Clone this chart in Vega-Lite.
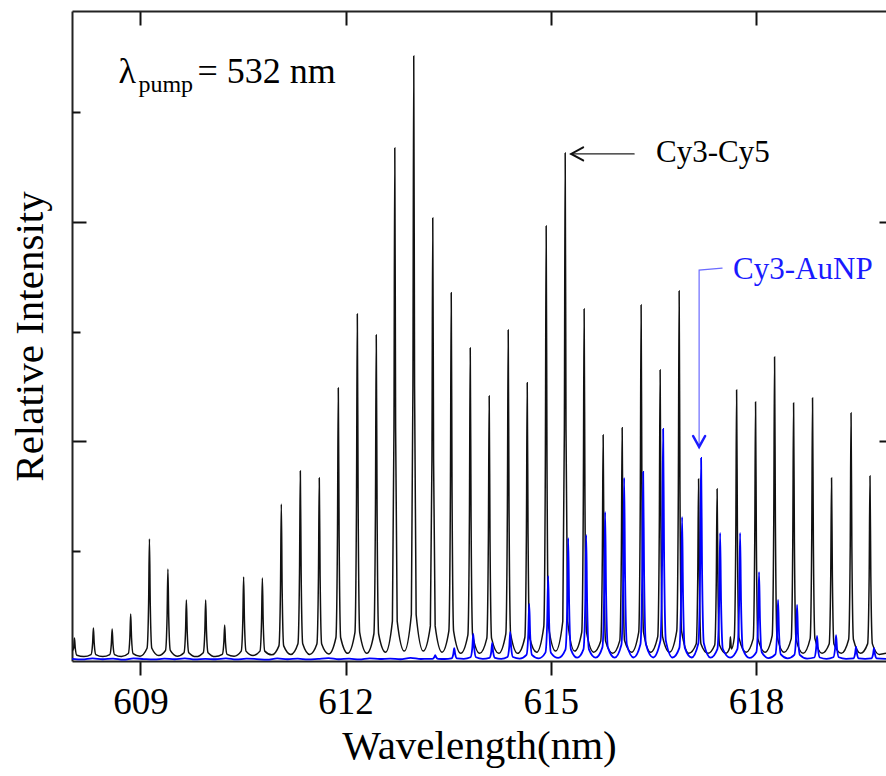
{
  "$schema": "https://vega.github.io/schema/vega-lite/v6.json",
  "width": 814,
  "height": 650,
  "autosize": {"type": "none"},
  "padding": {"left": 72, "top": 11, "right": 0, "bottom": 115},
  "background": "white",
  "config": {"view": {"stroke": null}},
  "datasets": {
    "k": [
      {"x":608.000,"y":0.045},
      {"x":608.024,"y":0.058},{"x":608.036,"y":0.105},{"x":608.048,"y":0.058},{"x":608.071,"y":0.026},
      {"x":608.175,"y":0.020},
      {"x":608.278,"y":0.029},{"x":608.301,"y":0.079},{"x":608.313,"y":0.150},{"x":608.325,"y":0.079},{"x":608.348,"y":0.029},
      {"x":608.450,"y":0.020},
      {"x":608.552,"y":0.029},{"x":608.575,"y":0.077},{"x":608.587,"y":0.146},{"x":608.599,"y":0.077},{"x":608.622,"y":0.029},
      {"x":608.722,"y":0.020},
      {"x":608.823,"y":0.034},{"x":608.846,"y":0.107},{"x":608.858,"y":0.214},{"x":608.870,"y":0.107},{"x":608.893,"y":0.034},
      {"x":608.995,"y":0.022},
      {"x":609.097,"y":0.058},{"x":609.120,"y":0.261},{"x":609.132,"y":0.556},{"x":609.144,"y":0.261},{"x":609.167,"y":0.058},
      {"x":609.267,"y":0.025},
      {"x":609.367,"y":0.048},{"x":609.390,"y":0.200},{"x":609.402,"y":0.419},{"x":609.414,"y":0.200},{"x":609.437,"y":0.048},
      {"x":609.537,"y":0.022},
      {"x":609.637,"y":0.038},{"x":609.660,"y":0.136},{"x":609.672,"y":0.278},{"x":609.684,"y":0.136},{"x":609.707,"y":0.038},
      {"x":609.813,"y":0.020},
      {"x":609.919,"y":0.038},{"x":609.942,"y":0.136},{"x":609.954,"y":0.278},{"x":609.966,"y":0.136},{"x":609.989,"y":0.038},
      {"x":610.093,"y":0.020},
      {"x":610.197,"y":0.030},{"x":610.220,"y":0.085},{"x":610.232,"y":0.164},{"x":610.244,"y":0.085},{"x":610.267,"y":0.030},
      {"x":610.370,"y":0.022},
      {"x":610.474,"y":0.045},{"x":610.497,"y":0.183},{"x":610.509,"y":0.383},{"x":610.521,"y":0.183},{"x":610.544,"y":0.045},
      {"x":610.646,"y":0.025},
      {"x":610.748,"y":0.045},{"x":610.771,"y":0.181},{"x":610.783,"y":0.378},{"x":610.795,"y":0.181},{"x":610.818,"y":0.045},
      {"x":610.921,"y":0.028},
      {"x":611.025,"y":0.069},{"x":611.048,"y":0.333},{"x":611.060,"y":0.715},{"x":611.072,"y":0.333},{"x":611.095,"y":0.069},
      {"x":611.199,"y":0.030},
      {"x":611.303,"y":0.079},{"x":611.326,"y":0.401},{"x":611.338,"y":0.866},{"x":611.350,"y":0.401},{"x":611.373,"y":0.079},
      {"x":611.476,"y":0.030},
      {"x":611.580,"y":0.077},{"x":611.603,"y":0.386},{"x":611.615,"y":0.834},{"x":611.627,"y":0.386},{"x":611.650,"y":0.077},
      {"x":611.754,"y":0.032},
      {"x":611.858,"y":0.106},{"x":611.881,"y":0.571},{"x":611.893,"y":1.244},{"x":611.905,"y":0.571},{"x":611.928,"y":0.106},
      {"x":612.032,"y":0.035},
      {"x":612.136,"y":0.129},{"x":612.159,"y":0.722},{"x":612.171,"y":1.581},{"x":612.183,"y":0.722},{"x":612.206,"y":0.129},
      {"x":612.310,"y":0.035},
      {"x":612.413,"y":0.123},{"x":612.436,"y":0.679},{"x":612.448,"y":1.485},{"x":612.460,"y":0.679},{"x":612.483,"y":0.123},
      {"x":612.584,"y":0.040},
      {"x":612.684,"y":0.182},{"x":612.707,"y":1.063},{"x":612.719,"y":2.337},{"x":612.731,"y":1.063},{"x":612.754,"y":0.182},
      {"x":612.858,"y":0.045},
      {"x":612.961,"y":0.212},{"x":612.984,"y":1.251},{"x":612.996,"y":2.756},{"x":613.008,"y":1.251},{"x":613.031,"y":0.212},
      {"x":613.135,"y":0.045},
      {"x":613.239,"y":0.160},{"x":613.262,"y":0.919},{"x":613.274,"y":2.018},{"x":613.286,"y":0.919},{"x":613.309,"y":0.160},
      {"x":613.409,"y":0.040},
      {"x":613.509,"y":0.136},{"x":613.532,"y":0.766},{"x":613.544,"y":1.677},{"x":613.556,"y":0.766},{"x":613.579,"y":0.136},
      {"x":613.683,"y":0.035},
      {"x":613.787,"y":0.118},{"x":613.810,"y":0.653},{"x":613.822,"y":1.426},{"x":613.834,"y":0.653},{"x":613.857,"y":0.118},
      {"x":613.960,"y":0.035},
      {"x":614.064,"y":0.103},{"x":614.087,"y":0.554},{"x":614.099,"y":1.207},{"x":614.111,"y":0.554},{"x":614.134,"y":0.103},
      {"x":614.238,"y":0.035},
      {"x":614.342,"y":0.124},{"x":614.365,"y":0.690},{"x":614.377,"y":1.508},{"x":614.389,"y":0.690},{"x":614.412,"y":0.124},
      {"x":614.516,"y":0.035},
      {"x":614.620,"y":0.107},{"x":614.643,"y":0.581},{"x":614.655,"y":1.267},{"x":614.667,"y":0.581},{"x":614.690,"y":0.107},
      {"x":614.793,"y":0.040},
      {"x":614.897,"y":0.157},{"x":614.920,"y":0.903},{"x":614.932,"y":1.982},{"x":614.944,"y":0.903},{"x":614.967,"y":0.157},
      {"x":615.071,"y":0.045},
      {"x":615.175,"y":0.181},{"x":615.198,"y":1.052},{"x":615.210,"y":2.314},{"x":615.222,"y":1.052},{"x":615.245,"y":0.181},
      {"x":615.348,"y":0.045},
      {"x":615.452,"y":0.131},{"x":615.475,"y":0.733},{"x":615.487,"y":1.604},{"x":615.499,"y":0.733},{"x":615.522,"y":0.131},
      {"x":615.626,"y":0.040},
      {"x":615.730,"y":0.091},{"x":615.753,"y":0.475},{"x":615.765,"y":1.030},{"x":615.777,"y":0.475},{"x":615.800,"y":0.091},
      {"x":615.904,"y":0.035},
      {"x":616.008,"y":0.093},{"x":616.031,"y":0.489},{"x":616.043,"y":1.062},{"x":616.055,"y":0.489},{"x":616.078,"y":0.093},
      {"x":616.181,"y":0.040},
      {"x":616.285,"y":0.132},{"x":616.308,"y":0.741},{"x":616.320,"y":1.622},{"x":616.332,"y":0.741},{"x":616.355,"y":0.132},
      {"x":616.459,"y":0.040},
      {"x":616.563,"y":0.111},{"x":616.586,"y":0.608},{"x":616.598,"y":1.326},{"x":616.610,"y":0.608},{"x":616.633,"y":0.111},
      {"x":616.737,"y":0.040},
      {"x":616.841,"y":0.137},{"x":616.864,"y":0.770},{"x":616.876,"y":1.686},{"x":616.888,"y":0.770},{"x":616.911,"y":0.137},
      {"x":617.018,"y":0.035},
      {"x":617.125,"y":0.077},{"x":617.148,"y":0.384},{"x":617.160,"y":0.829},{"x":617.172,"y":0.384},{"x":617.195,"y":0.077},
      {"x":617.296,"y":0.035},
      {"x":617.396,"y":0.073},{"x":617.419,"y":0.364},{"x":617.431,"y":0.784},{"x":617.443,"y":0.364},{"x":617.466,"y":0.073},
      {"x":617.560,"y":0.035},{"x":617.615,"y":0.060},{"x":617.625,"y":0.110},{"x":617.640,"y":0.055},
      {"x":617.681,"y":0.105},{"x":617.704,"y":0.567},{"x":617.716,"y":1.235},{"x":617.728,"y":0.567},{"x":617.751,"y":0.105},
      {"x":617.855,"y":0.040},
      {"x":617.958,"y":0.101},{"x":617.981,"y":0.542},{"x":617.993,"y":1.180},{"x":618.005,"y":0.542},{"x":618.028,"y":0.101},
      {"x":618.132,"y":0.040},
      {"x":618.236,"y":0.116},{"x":618.259,"y":0.634},{"x":618.271,"y":1.385},{"x":618.283,"y":0.634},{"x":618.306,"y":0.116},
      {"x":618.410,"y":0.040},
      {"x":618.514,"y":0.101},{"x":618.537,"y":0.540},{"x":618.549,"y":1.175},{"x":618.561,"y":0.540},{"x":618.584,"y":0.101},
      {"x":618.688,"y":0.035},
      {"x":618.791,"y":0.102},{"x":618.814,"y":0.550},{"x":618.826,"y":1.198},{"x":618.838,"y":0.550},{"x":618.861,"y":0.102},
      {"x":618.965,"y":0.035},
      {"x":619.069,"y":0.077},{"x":619.092,"y":0.386},{"x":619.104,"y":0.834},{"x":619.116,"y":0.386},{"x":619.139,"y":0.077},
      {"x":619.246,"y":0.035},
      {"x":619.354,"y":0.098},{"x":619.377,"y":0.520},{"x":619.389,"y":1.130},{"x":619.401,"y":0.520},{"x":619.424,"y":0.098},
      {"x":619.528,"y":0.035},
      {"x":619.631,"y":0.078},{"x":619.654,"y":0.390},{"x":619.666,"y":0.843},{"x":619.678,"y":0.390},{"x":619.701,"y":0.078},
      {"x":619.800,"y":0.030},
      {"x":619.900,"y":0.035}
    ],
    "b": [
      {"x":608.00,"y":0.010},{"x":608.15,"y":0.007},{"x":608.30,"y":0.012},{"x":608.45,"y":0.008},{"x":608.60,"y":0.011},
      {"x":608.75,"y":0.006},{"x":608.90,"y":0.012},{"x":609.05,"y":0.009},{"x":609.20,"y":0.007},{"x":609.35,"y":0.011},
      {"x":609.50,"y":0.008},{"x":609.65,"y":0.012},{"x":609.80,"y":0.007},{"x":609.95,"y":0.010},{"x":610.10,"y":0.008},
      {"x":610.25,"y":0.012},{"x":610.40,"y":0.007},{"x":610.55,"y":0.011},{"x":610.70,"y":0.009},{"x":610.85,"y":0.006},
      {"x":611.00,"y":0.012},{"x":611.15,"y":0.008},{"x":611.30,"y":0.011},{"x":611.45,"y":0.007},{"x":611.60,"y":0.010},
      {"x":611.75,"y":0.013},{"x":611.90,"y":0.008},{"x":612.05,"y":0.011},{"x":612.20,"y":0.007},{"x":612.35,"y":0.012},
      {"x":612.50,"y":0.009},{"x":612.65,"y":0.011},{"x":612.80,"y":0.008},{"x":612.95,"y":0.014},{"x":613.10,"y":0.009},
      {"x":613.20,"y":0.010},
      {"x":613.270,"y":0.010},{"x":613.296,"y":0.017},{"x":613.310,"y":0.027},{"x":613.324,"y":0.017},{"x":613.350,"y":0.010},
      {"x":613.449,"y":0.009},
      {"x":613.548,"y":0.012},{"x":613.574,"y":0.031},{"x":613.588,"y":0.059},{"x":613.602,"y":0.031},{"x":613.628,"y":0.012},
      {"x":613.727,"y":0.010},
      {"x":613.826,"y":0.017},{"x":613.852,"y":0.060},{"x":613.866,"y":0.123},{"x":613.880,"y":0.060},{"x":613.906,"y":0.017},
      {"x":614.005,"y":0.010},
      {"x":614.103,"y":0.014},{"x":614.129,"y":0.041},{"x":614.143,"y":0.082},{"x":614.157,"y":0.041},{"x":614.183,"y":0.014},
      {"x":614.275,"y":0.010},
      {"x":614.366,"y":0.018},{"x":614.392,"y":0.064},{"x":614.406,"y":0.132},{"x":614.420,"y":0.064},{"x":614.446,"y":0.018},
      {"x":614.545,"y":0.011},
      {"x":614.644,"y":0.028},{"x":614.670,"y":0.121},{"x":614.684,"y":0.260},{"x":614.698,"y":0.121},{"x":614.724,"y":0.028},
      {"x":614.823,"y":0.012},
      {"x":614.921,"y":0.038},{"x":614.947,"y":0.179},{"x":614.961,"y":0.387},{"x":614.975,"y":0.179},{"x":615.001,"y":0.038},
      {"x":615.108,"y":0.014},
      {"x":615.214,"y":0.052},{"x":615.240,"y":0.256},{"x":615.254,"y":0.560},{"x":615.268,"y":0.256},{"x":615.294,"y":0.052},
      {"x":615.386,"y":0.015},
      {"x":615.477,"y":0.053},{"x":615.503,"y":0.263},{"x":615.517,"y":0.574},{"x":615.531,"y":0.263},{"x":615.557,"y":0.053},
      {"x":615.656,"y":0.015},
      {"x":615.754,"y":0.062},{"x":615.780,"y":0.310},{"x":615.794,"y":0.679},{"x":615.808,"y":0.310},{"x":615.834,"y":0.062},
      {"x":615.933,"y":0.015},
      {"x":616.032,"y":0.074},{"x":616.058,"y":0.380},{"x":616.072,"y":0.834},{"x":616.086,"y":0.380},{"x":616.112,"y":0.074},
      {"x":616.211,"y":0.016},
      {"x":616.310,"y":0.076},{"x":616.336,"y":0.392},{"x":616.350,"y":0.861},{"x":616.364,"y":0.392},{"x":616.390,"y":0.076},
      {"x":616.496,"y":0.016},
      {"x":616.602,"y":0.092},{"x":616.628,"y":0.480},{"x":616.642,"y":1.057},{"x":616.656,"y":0.480},{"x":616.682,"y":0.092},
      {"x":616.780,"y":0.016},
      {"x":616.879,"y":0.060},{"x":616.905,"y":0.300},{"x":616.919,"y":0.656},{"x":616.933,"y":0.300},{"x":616.959,"y":0.060},
      {"x":617.058,"y":0.016},
      {"x":617.157,"y":0.081},{"x":617.183,"y":0.421},{"x":617.197,"y":0.925},{"x":617.211,"y":0.421},{"x":617.237,"y":0.081},
      {"x":617.336,"y":0.015},
      {"x":617.435,"y":0.054},{"x":617.461,"y":0.267},{"x":617.475,"y":0.583},{"x":617.489,"y":0.267},{"x":617.515,"y":0.054},
      {"x":617.621,"y":0.015},
      {"x":617.727,"y":0.054},{"x":617.753,"y":0.267},{"x":617.767,"y":0.583},{"x":617.781,"y":0.267},{"x":617.807,"y":0.054},
      {"x":617.905,"y":0.014},
      {"x":618.004,"y":0.040},{"x":618.030,"y":0.187},{"x":618.044,"y":0.405},{"x":618.058,"y":0.187},{"x":618.084,"y":0.040},
      {"x":618.183,"y":0.013},
      {"x":618.282,"y":0.030},{"x":618.308,"y":0.130},{"x":618.322,"y":0.278},{"x":618.336,"y":0.130},{"x":618.362,"y":0.030},
      {"x":618.461,"y":0.012},
      {"x":618.560,"y":0.028},{"x":618.586,"y":0.119},{"x":618.600,"y":0.255},{"x":618.614,"y":0.119},{"x":618.640,"y":0.028},
      {"x":618.746,"y":0.011},
      {"x":618.852,"y":0.016},{"x":618.878,"y":0.056},{"x":618.892,"y":0.114},{"x":618.906,"y":0.056},{"x":618.932,"y":0.016},
      {"x":619.031,"y":0.010},
      {"x":619.130,"y":0.017},{"x":619.156,"y":0.058},{"x":619.170,"y":0.118},{"x":619.184,"y":0.058},{"x":619.210,"y":0.017},
      {"x":619.316,"y":0.010},
      {"x":619.422,"y":0.012},{"x":619.448,"y":0.033},{"x":619.462,"y":0.064},{"x":619.476,"y":0.033},{"x":619.502,"y":0.012},
      {"x":619.594,"y":0.010},
      {"x":619.685,"y":0.012},{"x":619.711,"y":0.031},{"x":619.725,"y":0.059},{"x":619.739,"y":0.031},{"x":619.765,"y":0.012},
      {"x":619.900,"y":0.010}
    ],
    "ann": [
      {"g":"a","o":1,"x":616.218,"y":2.310,"c":"#222222","w":1.2},
      {"g":"a","o":2,"x":615.297,"y":2.310,"c":"#222222","w":1.2},
      {"g":"ah","o":1,"x":615.473,"y":2.340,"c":"#111111","w":2},
      {"g":"ah","o":2,"x":615.297,"y":2.310,"c":"#111111","w":2},
      {"g":"ah","o":3,"x":615.473,"y":2.280,"c":"#111111","w":2},
      {"g":"b","o":1,"x":617.504,"y":1.790,"c":"#6b6bff","w":1.2},
      {"g":"b","o":2,"x":617.168,"y":1.781,"c":"#6b6bff","w":1.2},
      {"g":"b","o":3,"x":617.168,"y":0.975,"c":"#6b6bff","w":1.2},
      {"g":"bh","o":1,"x":617.080,"y":1.025,"c":"#1a1aff","w":2.5},
      {"g":"bh","o":2,"x":617.168,"y":0.975,"c":"#1a1aff","w":2.5},
      {"g":"bh","o":3,"x":617.256,"y":1.025,"c":"#1a1aff","w":2.5}
    ],
    "txt": [
      {"t":"λ","x":608.679,"y":2.633,"s":36,"c":"#000000"},
      {"t":"pump","x":608.971,"y":2.592,"s":24,"c":"#000000"},
      {"t":"= 532 nm","x":609.833,"y":2.633,"s":36,"c":"#000000"},
      {"t":"Cy3-Cy5","x":616.539,"y":2.273,"s":31,"c":"#000000"},
      {"t":"Cy3-AuNP","x":617.665,"y":1.740,"s":31,"c":"#1a1aff"}
    ]
  },
  "layer": [
    {
      "data": {"name": "k"},
      "mark": {"type": "line", "color": "#111111", "strokeWidth": 1.5, "interpolate": "monotone", "clip": true},
      "encoding": {
        "x": {"field": "x", "type": "quantitative",
          "scale": {"domain": [608, 619.9], "nice": false, "zero": false},
          "axis": {"orient": "bottom", "values": [609, 612, 615, 618], "format": "d", "grid": false,
            "title": "Wavelength(nm)", "titleFont": "Liberation Serif", "titleFontSize": 41, "titleFontWeight": "normal", "titleColor": "#000000", "titlePadding": 6,
            "labelFont": "Liberation Serif", "labelFontSize": 37, "labelColor": "#000000", "labelPadding": 9,
            "tickSize": 14, "tickWidth": 2, "tickColor": "#111111", "domainColor": "#222222", "domainWidth": 2}},
        "y": {"field": "y", "type": "quantitative",
          "scale": {"domain": [0, 2.961], "nice": false, "zero": false},
          "axis": {"orient": "left", "values": [1, 2], "grid": false, "labels": false,
            "title": "Relative Intensity", "titleFont": "Liberation Serif", "titleFontSize": 41, "titleFontWeight": "normal", "titleColor": "#000000", "titlePadding": 20,
            "tickSize": -14, "tickWidth": 2, "tickColor": "#111111", "domainColor": "#222222", "domainWidth": 2}}
      }
    },
    {
      "data": {"name": "b"},
      "mark": {"type": "line", "color": "#0000ff", "strokeWidth": 1.8, "interpolate": "monotone", "clip": true},
      "encoding": {
        "x": {"field": "x", "type": "quantitative",
          "axis": {"orient": "top", "values": [609, 612, 615, 618], "grid": false, "labels": false, "title": null,
            "tickSize": -14, "tickWidth": 2, "tickColor": "#111111", "domainColor": "#222222", "domainWidth": 2}},
        "y": {"field": "y", "type": "quantitative",
          "axis": {"orient": "left", "values": [0.5, 1.5, 2.5], "grid": false, "labels": false, "title": null, "domain": false,
            "tickSize": -8, "tickWidth": 2, "tickColor": "#111111"}}
      }
    },
    {
      "data": {"name": "ann"},
      "mark": {"type": "line", "strokeCap": "round", "strokeJoin": "miter"},
      "encoding": {
        "x": {"field": "x", "type": "quantitative", "axis": null},
        "y": {"field": "y", "type": "quantitative",
          "axis": {"orient": "right", "values": [1, 2], "grid": false, "labels": false, "title": null, "domain": false,
            "tickSize": -7, "tickWidth": 2, "tickColor": "#111111"}},
        "detail": {"field": "g"},
        "order": {"field": "o"},
        "color": {"field": "c", "type": "nominal", "scale": null},
        "strokeWidth": {"field": "w", "type": "quantitative", "scale": null}
      }
    },
    {
      "data": {"name": "txt"},
      "mark": {"type": "text", "align": "left", "baseline": "alphabetic", "font": "Liberation Serif"},
      "encoding": {
        "x": {"field": "x", "type": "quantitative", "axis": null},
        "y": {"field": "y", "type": "quantitative", "axis": null},
        "text": {"field": "t"},
        "size": {"field": "s", "type": "quantitative", "scale": null},
        "color": {"field": "c", "type": "nominal", "scale": null}
      }
    }
  ],
  "resolve": {"axis": {"x": "independent", "y": "independent"}}
}
